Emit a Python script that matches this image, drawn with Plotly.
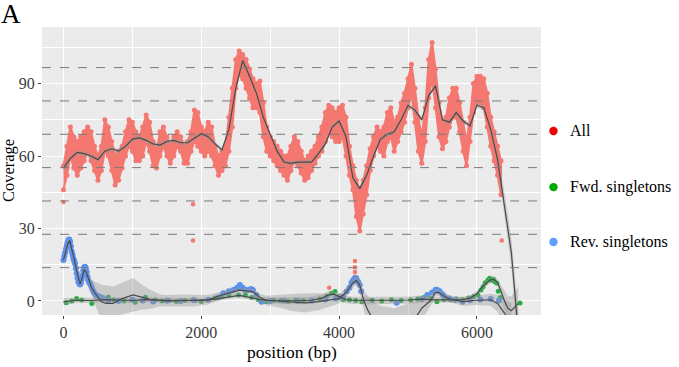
import plotly.graph_objects as go

# ---------------- data ----------------
# All reads: coverage band (low / high) sampled every 50 bp
all_pos = list(range(0, 6351, 50))
all_lo = [46,52,60,55,52,55,58,62,58,54,50,54,62,60,54,48,50,55,60,64,
          62,58,58,60,66,62,56,55,60,64,60,57,60,64,62,57,57,62,66,64,
          62,60,62,60,56,52,54,56,62,72,88,94,92,88,84,80,80,78,68,62,
          60,58,56,54,52,50,54,58,56,53,50,51,54,57,60,62,66,70,68,66,
          66,68,60,52,46,35,29,36,44,54,60,64,62,60,66,68,62,66,70,74,
          80,86,74,62,57,66,84,92,80,68,63,66,72,76,76,70,62,56,66,78,
          82,82,80,72,64,58,52,44]
all_hi = [56,64,72,68,66,68,70,72,70,64,60,64,75,72,66,60,62,64,70,75,
          74,70,68,72,77,74,66,62,70,72,68,64,68,70,68,64,66,70,79,78,
          72,70,74,72,64,60,62,64,76,88,100,103.5,102,100,96,92,90,91,82,72,
          68,66,64,62,60,60,64,68,66,62,58,60,62,64,68,72,78,81,80,78,
          80,81,76,64,56,50,46,50,56,63,68,72,70,72,78,80,74,76,82,86,
          92,98,88,76,68,80,100,107,96,82,74,76,84,88,88,82,74,66,76,90,
          93,93,92,86,76,70,64,58]
# isolated All points
all_iso_x = [0, 1880, 1880, 3855, 4230, 4230, 4230, 4230, 4230, 6360]
all_iso_y = [41, 40, 25, 5.5, 8, 10, 12, 14, 16.5, 25]

# All smooth (loess) line and its standard-error half width
all_fit_x = list(range(0, 6601, 100))
all_fit_y = [55,59,61.5,61,60,58.5,62,63,62,64,67,67.5,66.5,65,64.5,66,66.5,65.5,65.5,67.5,
             69.2,68,65,62.5,71,88,99.5,93,86,76,69,62,57.5,57,57.5,57.5,57.5,61,65,72,
             74.5,68,51,46.5,52,60,67,69,70,75,81,79,75,85,89,75,74,78,74.5,72.5,
             81,80,71,58.5,40,20,-13]
all_fit_se = [1.5]+[1]*61+[1.5,3,5,6,8]

# Fwd. singletons
fwd_x = [40,120,190,265,410,650,730,880,1040,1190,1330,1430,1530,1640,1760,1880,2000,2110,2200,2300,
         2400,2540,2640,2730,2830,2940,3050,3150,3260,3370,3480,3600,3720,3820,3890,3940,3990,4060,4150,4240,
         4330,4480,4620,4760,4900,5040,5140,5230,5330,5420,5520,5620,5700,5790,5880,5950,6015,6060,6090,6120,
         6160,6185,6210,6240,6260,6290,6310,6340,6625]
fwd_y = [-0.7,0,1,0.4,-1,1.5,0.4,0,-0.5,1.5,0.4,0,0.3,-0.2,0.2,0.5,-0.2,0.6,1.2,2.0,
         2.5,2.5,2.5,1.4,0.5,-0.3,0.3,0.2,-0.2,0.4,0.1,0.3,0.8,2.0,3.2,3.9,1.8,0.5,0.5,0.2,
         -0.3,0.3,0,0.5,0.2,0.4,0.8,1.4,1.0,-0.3,0.6,0.5,0.8,0.5,1.2,1.8,2.5,4.5,5.9,7.5,
         8.7,9.4,8.6,9.0,8.0,7.3,4.0,1.4,-0.8]
fwd_fit_x = [0,200,400,600,800,1000,1200,1400,1600,1800,2000,2200,2400,2550,2700,2850,3000,3200,3400,3600,
             3750,3850,3920,4000,4100,4200,4400,4600,4800,5000,5200,5400,5600,5800,5900,6000,6100,6200,6250,6300,
             6350,6400,6450,6500,6600]
fwd_fit_y = [-0.3,0.3,0.2,0.6,0.4,0.2,0.6,0.3,0.1,0.2,0.2,0.8,1.8,2.3,1.5,0.6,0.2,0.1,0.1,0.3,
             1.2,2.5,2.8,1.8,0.6,0.3,0.2,0.2,0.3,0.4,0.8,0.5,0.5,0.6,1.2,3.0,6.5,8.8,8.8,7.5,
             4,0,-3,-4,-1]
fwd_fit_se = [1.5,1,1,1,1,1,1,1,1,1,1,1,1,1,1,1,1.2,1.5,1.5,1.5,
              1.5,1.5,1.5,1.5,1.5,1.5,1.5,1.5,1.5,1.5,1.5,1.2,1.2,1.2,1.2,1.2,1.2,1.2,1.2,1.5,
              2.5,4,5,6,7]

# Rev. singletons
rev_x = [0,12,24,36,48,60,72,84,96,108,120,132,144,156,168,180,192,204,216,228,
         240,252,264,276,288,300,312,324,336,348,360,375,390,405,420,440,460,490,530,570,
         650,800,1000,1150,1300,1500,1700,1900,2100,2250,2320,2400,2465,2520,2560,2600,2640,2680,2720,2750,
         2800,2875,3000,3200,3400,3600,3800,3950,4010,4060,4110,4150,4180,4205,4230,4250,4275,4300,4320,4835,
         5200,5280,5350,5400,5420,5460,5500,5530,5600,5680,5790,5900,6050,6200,6320]
rev_y = [17,18.5,20,21.5,23,24.2,25.2,25.5,24.5,22.5,20.5,19,17.5,16.5,15.5,13.5,11.5,9.5,8,7.2,
         6.8,7.5,9,10.5,12.5,14,14.2,13.5,12,10,8.5,7.5,7,6,4.8,3.6,2.8,2.2,1.8,1.2,
         0.3,0,0.5,0.2,-0.2,0.1,0,0.3,0.5,1.5,3.2,4.0,4.5,5.5,6.6,5.5,4.5,4.5,5.0,4.5,
         2.5,-0.3,0,0.1,0,0.2,0.6,1.0,1.5,1.8,3.9,5.5,7.5,8.7,9.4,9.4,8.0,6.6,4.0,-0.7,
         0.8,2.5,3.5,4.6,4.6,4.0,2.8,1.8,1.0,0.5,-0.3,0.3,0.6,0.8,0.2]
rev_fit_x = [0,30,60,90,120,150,180,210,240,270,300,330,360,400,450,500,550,620,720,850,
             1010,1150,1255,1400,1500,1700,1900,2100,2300,2450,2550,2650,2750,2850,2950,3100,3300,3500,3700,3900,
             4000,4100,4200,4250,4300,4360,4420,4480,4600,4800,5000,5130,5200,5320,5400,5450,5550,5650,5800,6000,
             6200,6300,6400,6500]
rev_fit_y = [17,20.5,23.5,25,22,18,14,10,7,9.5,13,12,9,6,3.5,1.5,-0.3,-1,-1,1,
             2.5,1.5,0.7,0.2,0,0.2,0.2,0.5,2.5,3.8,4.5,4.2,3.8,1.5,0.2,0,-0.5,-0.8,-0.3,0.5,
             1,3.5,7.5,8.5,6.5,0,-4,-7,-10,-12,-9,-6,-3,0,3.5,3.5,1.5,0.5,-0.3,0.3,
             0.5,-1,-5,-10]
rev_fit_se = [2,1.5,1.5,1.5,1.5,1.5,1.5,1.5,1.5,1.5,1.5,1.5,2,3,4.5,6,7,7.5,7,6.5,
              7,5,4,2.5,2.5,2.5,2.5,2,1.5,1.2,1.2,1.2,1.3,1.5,2,2.5,3.5,4,3.5,2.5,
              2,1.8,1.8,2,2.5,4,6,7,8,9,8,6,5,2.5,1.5,1.5,1.5,1.5,1.8,2,
              2.5,3.5,6,9]

ref_levels = [13.8, 27.6, 41.4, 55.2, 69.0, 82.8, 96.6]
legend_labels = ["All", "Fwd. singletons", "Rev. singletons"]
legend_colors = ["#F00000", "#00A800", "#5E9EFF"]

# ---------------- figure ----------------
SERIF = "Liberation Serif, Times New Roman, Times, serif"
RED = "#F47770"
fig = go.Figure()

# All points: dense coverage band between low and high values
fig.add_trace(go.Scatter(x=all_pos + all_pos[::-1], y=all_hi + all_lo[::-1], mode="lines",
                         fill="toself", fillcolor=RED, line=dict(color=RED, width=2),
                         hoverinfo="skip", showlegend=False))
fig.add_trace(go.Scatter(x=all_pos + all_pos, y=all_lo + all_hi, mode="markers",
                         marker=dict(color=RED, size=5),
                         hoverinfo="skip", showlegend=False))
fig.add_trace(go.Scatter(x=all_iso_x, y=all_iso_y, mode="markers",
                         marker=dict(color=RED, size=4.5),
                         hoverinfo="skip", showlegend=False))

fig.add_trace(go.Scatter(x=fwd_x, y=fwd_y, mode="markers",
                         marker=dict(color="#1FB13F", size=5),
                         showlegend=False))
fig.add_trace(go.Scatter(x=rev_x, y=rev_y, mode="markers",
                         marker=dict(color="#5A90EE", size=6),
                         showlegend=False))

def ribbon(xs, ys, se):
    up = [y + s for y, s in zip(ys, se)]
    lo = [y - s for y, s in zip(ys, se)]
    fig.add_trace(go.Scatter(x=xs + xs[::-1], y=up + lo[::-1], mode="lines",
                             fill="toself", fillcolor="rgba(150,150,150,0.4)",
                             line=dict(width=0), hoverinfo="skip", showlegend=False))

ribbon(all_fit_x, all_fit_y, all_fit_se)
ribbon(fwd_fit_x, fwd_fit_y, fwd_fit_se)
ribbon(rev_fit_x, rev_fit_y, rev_fit_se)

for xs, ys in [(all_fit_x, all_fit_y), (fwd_fit_x, fwd_fit_y), (rev_fit_x, rev_fit_y)]:
    fig.add_trace(go.Scatter(x=xs, y=ys, mode="lines",
                             line=dict(color="#4a4a4a", width=1.2),
                             hoverinfo="skip", showlegend=False))

shapes = []
for lv in ref_levels:
    shapes.append(dict(type="line", xref="paper", x0=0, x1=1, yref="y", y0=lv, y1=lv,
                       line=dict(color="#7a7a7a", width=1, dash="dash"), layer="above"))

# manual legend
annotations = []
leg_y = [0.639, 0.444, 0.2535]
for lab, col, yy in zip(legend_labels, legend_colors, leg_y):
    shapes.append(dict(type="circle", xref="paper", yref="paper",
                       xsizemode="pixel", ysizemode="pixel",
                       xanchor=1.025, yanchor=yy, x0=-4.2, x1=4.2, y0=-4.2, y1=4.2,
                       fillcolor=col, line=dict(width=0)))
    annotations.append(dict(text=lab, xref="paper", yref="paper", x=1.054, y=yy,
                            xanchor="left", yanchor="middle", showarrow=False,
                            font=dict(family=SERIF, size=16, color="black")))

annotations.append(dict(text="A", xref="paper", yref="paper", x=-0.086, y=1.105,
                        xanchor="left", yanchor="top", showarrow=False,
                        font=dict(family=SERIF, size=27, color="black")))
annotations.append(dict(text="Coverage", xref="paper", yref="paper", x=-0.068, y=0.5,
                        xanchor="center", yanchor="middle", textangle=-90, showarrow=False,
                        font=dict(family=SERIF, size=16.5, color="black")))
annotations.append(dict(text="position (bp)", xref="paper", yref="paper", x=0.5, y=-0.128,
                        xanchor="center", yanchor="middle", showarrow=False,
                        font=dict(family=SERIF, size=17.5, color="black")))

fig.update_layout(
    width=679, height=367,
    margin=dict(l=42, r=138, t=27, b=52, autoexpand=False),
    plot_bgcolor="#EBEBEB", paper_bgcolor="white",
    showlegend=False,
    font=dict(family=SERIF),
    shapes=shapes, annotations=annotations,
    xaxis=dict(range=[-312, 6930], tickvals=[0, 2000, 4000, 6000], automargin=False,
               showgrid=True, gridcolor="white", gridwidth=1.3, zeroline=False,
               minor=dict(tickvals=[1000, 3000, 5000], showgrid=True,
                          gridcolor="white", gridwidth=0.6),
               ticks="outside", ticklen=3, tickcolor="#444", tickwidth=1,
               tickfont=dict(family=SERIF, size=16, color="#3a3a3a")),
    yaxis=dict(range=[-5.8, 113.4], tickvals=[0, 30, 60, 90], automargin=False,
               showgrid=True, gridcolor="white", gridwidth=1.3, zeroline=False,
               minor=dict(tickvals=[15, 45, 75, 105], showgrid=True,
                          gridcolor="white", gridwidth=0.6),
               ticks="outside", ticklen=3, tickcolor="#444", tickwidth=1,
               tickfont=dict(family=SERIF, size=16, color="#3a3a3a")),
)

fig.write_html("out.html")
